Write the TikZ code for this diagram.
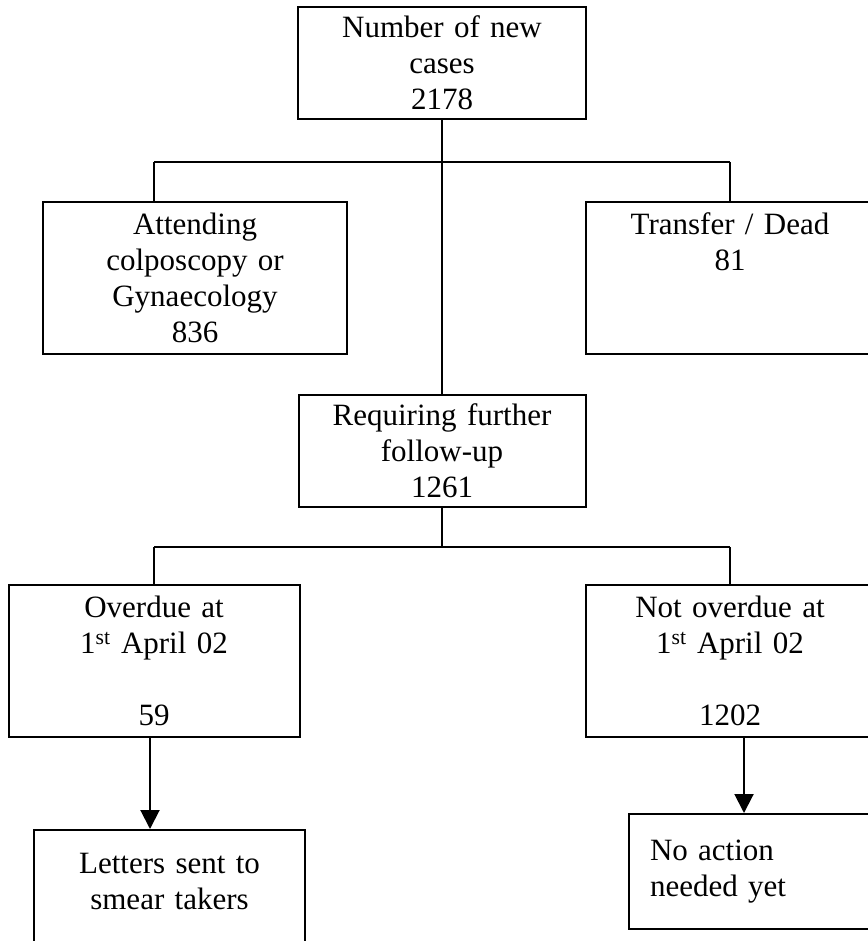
\documentclass[tikz,border=0pt]{standalone}
\usepackage{fontspec}
\setmainfont{Liberation Serif}
\usetikzlibrary{arrows.meta}
\begin{document}
\begin{tikzpicture}
[x=1pt,y=-1pt,
  boxdecorate/.style={draw,line width=2pt,inner sep=0pt,%
    font=\fontsize{31}{36}\selectfont},
  linedecorate/.style={-,line width=2pt},
  arrowdecorate/.style={-{Triangle[length=19pt,width=19pt]},line width=2pt}]
\useasboundingbox (0,0) rectangle (867,941);
%% boxes
\foreach \nodename/\x/\y/\w/\h/\tw/\textalign/\boxtext in {
  cases/442/63/288/112/230/center/{Number of new\\cases\\2178},
  attending/195/278/304/152/230/center/{Attending\\colposcopy or\\Gynaecology\\836},
  transfer/730/278/288/152/230/center/{Transfer / Dead\\81\\\mbox{}\\\mbox{}},
  followup/442/451/287/112/230/center/{Requiring further\\follow-up\\1261},
  overdue/154/661/291/152/230/center/{Overdue at\\1\textsuperscript{st} April 02\\\mbox{}\\59},
  notoverdue/730/661/288/152/230/center/{Not overdue at\\1\textsuperscript{st} April 02\\\mbox{}\\1202},
  letters/169.5/917.5/271/175/230/center/{Letters sent to\\smear takers\\\mbox{}\\\mbox{}},
  noaction/754.5/871.5/251/115/209/left/{No action\\needed yet}} {
  \node (\nodename) at (\x,\y) [boxdecorate,minimum width=\w pt,%
    minimum height=\h pt,text width=\tw pt,align=\textalign] {\boxtext};
}
%% bus lines
\coordinate (topbusl) at (154,162);
\coordinate (topbusr) at (730,162);
\coordinate (lowbus) at (442,547);
\coordinate (lowbusl) at (154,547);
\coordinate (lowbusr) at (730,547);
\coordinate (leftdrop) at (150,0);
\coordinate (rightdrop) at (744,0);
%% connectors
\path
\foreach \startnode/\endnode in {cases/followup, topbusl/topbusr,
  topbusl/topbusl |- attending.north, topbusr/transfer,
  followup/lowbus, lowbusl/lowbusr, lowbusl/overdue, lowbusr/notoverdue} {
  (\startnode) edge[linedecorate] (\endnode)
};
\draw[arrowdecorate] (overdue.south -| leftdrop) -- (letters.north -| leftdrop);
\draw[arrowdecorate] (notoverdue.south -| rightdrop) -- (noaction.north -| rightdrop);
\end{tikzpicture}
\end{document}
